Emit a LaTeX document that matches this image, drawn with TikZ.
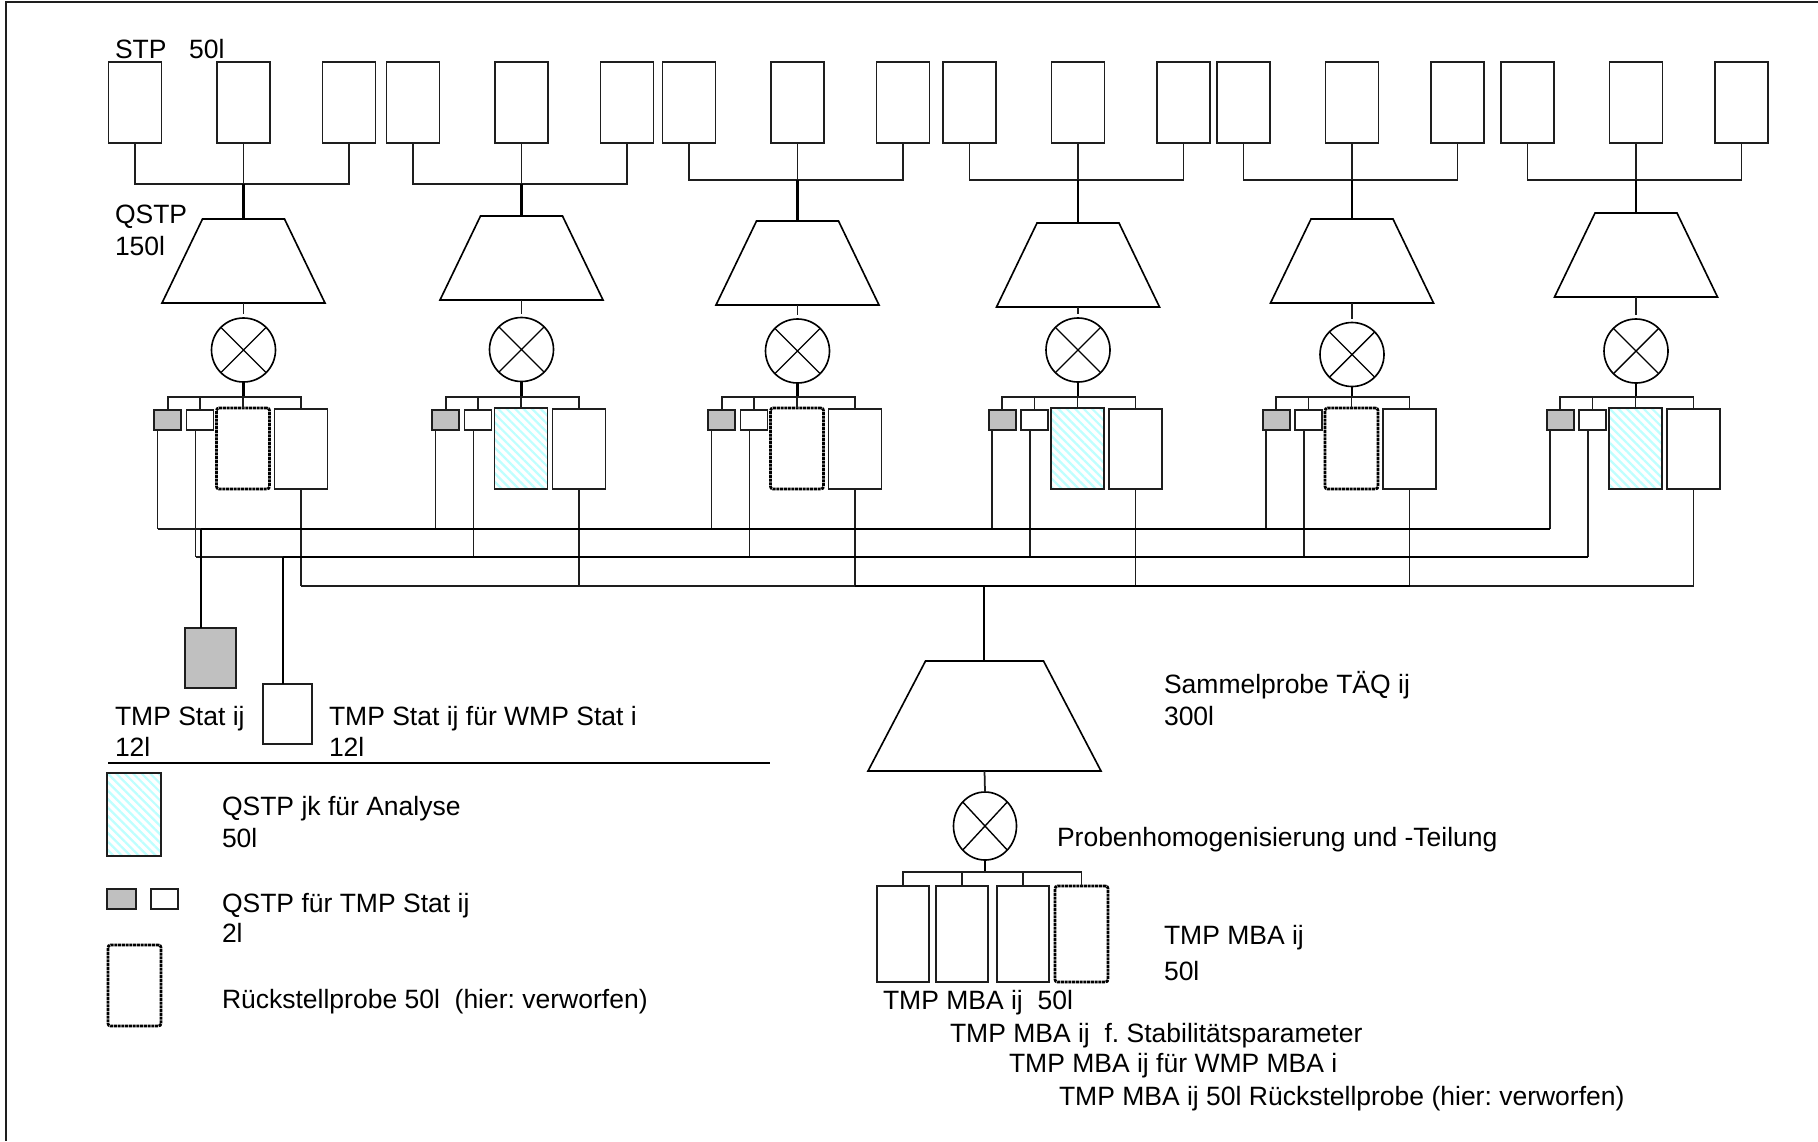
\documentclass[tikz,border=0pt]{standalone}
\usepackage{fontspec}
\setmainfont{Liberation Sans}
\usetikzlibrary{shapes.geometric,patterns.meta,calc}
\definecolor{boxgray}{RGB}{192,192,192}
\definecolor{hatchcyan}{RGB}{190,255,255}
\definecolor{edge}{RGB}{30,30,30}
\def\PX{0.4pt}
\begin{document}
\begin{tikzpicture}[x=0.4pt, y=-0.4pt,
  ln/.style={line width=0.7pt, draw=edge},
  thk/.style={line width=0.95pt, draw=black},
  bx/.style={draw=edge, line width=0.65pt, fill=white, inner sep=0pt, outer sep=0pt},
  stpbox/.style={bx, minimum width=53*\PX, minimum height=81*\PX},
  grbox/.style={bx, fill=boxgray, minimum width=27*\PX, minimum height=20*\PX},
  smbox/.style={bx, minimum width=27*\PX, minimum height=20*\PX},
  bigbox/.style={bx, minimum width=53*\PX, minimum height=80*\PX},
  rueck/.style={draw=black, line width=1.1pt, dash pattern=on 1.2pt off 0.3pt, rounded corners=1pt, fill=white, inner sep=0pt, outer sep=0pt, minimum width=53*\PX, minimum height=81*\PX},
  hatch/.style={draw=edge, line width=0.65pt, pattern={Lines[angle=-45,distance=2.4pt,line width=0.9pt]}, pattern color=hatchcyan, inner sep=0pt, outer sep=0pt, minimum width=53*\PX, minimum height=81*\PX},
  trap/.style={trapezium, draw=black, line width=0.65pt, outer sep=0pt, minimum width=1pt, minimum height=1pt},
  mix/.style={circle, draw=black, line width=0.65pt, inner sep=0pt, outer sep=0pt, minimum size=64*\PX,
    path picture={\draw[line width=0.55pt] (path picture bounding box.north west) -- (path picture bounding box.south east) (path picture bounding box.north east) -- (path picture bounding box.south west);}},
  lbl/.style={anchor=base west, inner sep=0pt, outer sep=0pt, font=\fontsize{10.6pt}{12pt}\selectfont\frenchspacing}
]
\fill[white] (0,0) rectangle (1818,1141);
\useasboundingbox (0,0) rectangle (1818,1141);

% frame
\draw[ln] (1818,2) -- (6,2) -- (6,1141);

% six groups
\foreach \c/\by/\ty/\cy [count=\i] in {243.5/184/219/350, 521.5/184/216/349.5, 797.5/180/221/351, 1078/180/223/350, 1352/180/219/354.5, 1636/180/213/351} {
  \node[stpbox] (sa\i) at (\c-108.5,102.5) {};
  \node[stpbox] (sb\i) at (\c,102.5) {};
  \node[stpbox] (sc\i) at (\c+105.5,102.5) {};
  \coordinate (bus\i) at (\c,\by);
  \draw[ln] (sa\i.south) |- (bus\i) -| (sc\i.south);
  \draw[ln] (sb\i.south) -- (bus\i);
  \node[trap, trapezium left angle=64.26, trapezium right angle=64.26, inner xsep=41*\PX, inner ysep=42*\PX, anchor=north] (tr\i) at (\c,\ty) {};
  \draw[thk] (bus\i) -- (tr\i.north);
  \node[mix] (mx\i) at (\c,\cy) {};
  \draw[ln] (tr\i.south) -- ($(mx\i.north)+(0,-4)$);
  \node[grbox] (g\i) at (\c-75.75,420) {};
  \node[smbox] (w\i) at (\c-43.5,420) {};
  \ifodd\i
    \node[rueck] (m\i) at (\c-0.5,448.5) {};
  \else
    \node[hatch] (m\i) at (\c-0.5,448.5) {};
  \fi
  \node[bigbox] (b\i) at (\c+57.5,449) {};
  \coordinate (br\i) at (\c,397);
  \draw[thk] (mx\i.south) -- (br\i);
  \draw[ln] (g\i.north) |- (br\i) -| (b\i.north);
  \draw[ln] (w\i.north) -- (w\i.north |- br\i);
  \draw[ln] (m\i.north) -- (m\i.north |- br\i);
  \coordinate (ga\i) at (\c-86,529);
  \coordinate (wa\i) at (\c-48,557);
  \coordinate (ba\i) at (\c+57.5,586);
  \draw[ln] (g\i.south -| ga\i) -- (ga\i);
  \draw[ln] (w\i.south -| wa\i) -- (wa\i);
  \draw[ln] (b\i.south) -- (ba\i);
}

% collecting lines
\coordinate (tsA) at (201,529);
\coordinate (tsB) at (283,557);
\draw[ln] (ga1) -- (tsA);
\draw[thk] (tsA) -- (ga6);
\draw[ln] (wa1) -- (tsB);
\draw[thk] (tsB) -- (wa6);
\draw[ln] (ba1) -- (ba3);
\draw[thk] (ba3) -- (ba5);
\draw[ln] (ba5) -- (ba6);

% TMP Stat boxes
\node[bx, fill=boxgray, minimum width=51*\PX, minimum height=60*\PX] (tsg) at (210.5,658) {};
\node[bx, minimum width=49*\PX, minimum height=60*\PX] (tsw) at (287.5,714) {};
\draw[thk] (tsA) -- (tsA |- tsg.north);
\draw[thk] (tsB) -- (tsB |- tsw.north);

% Sammelprobe
\coordinate (sumC) at (984,586);
\node[trap, trapezium left angle=62.4, trapezium right angle=62.4, inner xsep=59*\PX, inner ysep=55*\PX, anchor=north] (sam) at (984.5,661) {};
\draw[thk] (sumC) -- (sumC |- sam.north);
\node[mix, ellipse, minimum width=63*\PX, minimum height=68*\PX] (smx) at (985,826) {};
\draw[ln] (sam.south) -- (smx.north);
\coordinate (sbr) at (985,872);
\draw[thk] (smx.south) -- (sbr);
\node[bx, minimum width=52*\PX, minimum height=96*\PX] (mb1) at (903,934) {};
\node[bx, minimum width=52*\PX, minimum height=96*\PX] (mb2) at (962,934) {};
\node[bx, minimum width=52*\PX, minimum height=96*\PX] (mb3) at (1023,934) {};
\node[rueck, minimum height=96*\PX] (mb4) at (1081.5,934) {};
\draw[ln] (mb1.north) |- (sbr) -| (mb4.north);
\draw[ln] (mb2.north) -- (mb2.north |- sbr);
\draw[ln] (mb3.north) -- (mb3.north |- sbr);

% legend
\draw[line width=0.9pt] (108,763) -- (770,763);
\node[hatch, minimum width=54*\PX, minimum height=83*\PX] (lh) at (134,814.5) {};
\node[grbox, minimum width=29*\PX] (lg) at (121.5,899) {};
\node[smbox] (lw) at (164.5,899) {};
\node[rueck] (ld) at (134.5,985.5) {};

% labels
\node[lbl] (tstp) at (115,58) {STP\hspace{9pt}50l};
\node[lbl] (tq1) at (115,223) {QSTP};
\node[lbl] (tq2) at (115,255) {150l};
\node[lbl] (tt1) at (115,725) {TMP Stat ij};
\node[lbl] (tt2) at (115,756) {12l};
\node[lbl] (tw1) at (329,725) {TMP Stat ij für WMP Stat i};
\node[lbl] (tw2) at (329,756) {12l};
\node[lbl] (la1) at (222,815) {QSTP jk für Analyse};
\node[lbl] (la2) at (222,847) {50l};
\node[lbl] (lb1) at (222,912) {QSTP für TMP Stat ij};
\node[lbl] (lb2) at (222,942) {2l};
\node[lbl] (lc1) at (222,1008) {Rückstellprobe 50l~ (hier: verworfen)};
\node[lbl] (ts1) at (1164,693) {Sammelprobe TÄQ ij};
\node[lbl] (ts2) at (1164,725) {300l};
\node[lbl] (tph) at (1057,846) {Probenhomogenisierung und -Teilung};
\node[lbl] (tm1) at (1164,944) {TMP MBA ij};
\node[lbl] (tm2) at (1164,980) {50l};
\node[lbl] (tn1) at (883,1009) {TMP MBA ij~ 50l};
\node[lbl] (tn2) at (950,1042) {TMP MBA ij~ f. Stabilitätsparameter};
\node[lbl] (tn3) at (1009,1072) {TMP MBA ij für WMP MBA i};
\node[lbl] (tn4) at (1059,1105) {TMP MBA ij 50l Rückstellprobe (hier: verworfen)};
\end{tikzpicture}
\end{document}
